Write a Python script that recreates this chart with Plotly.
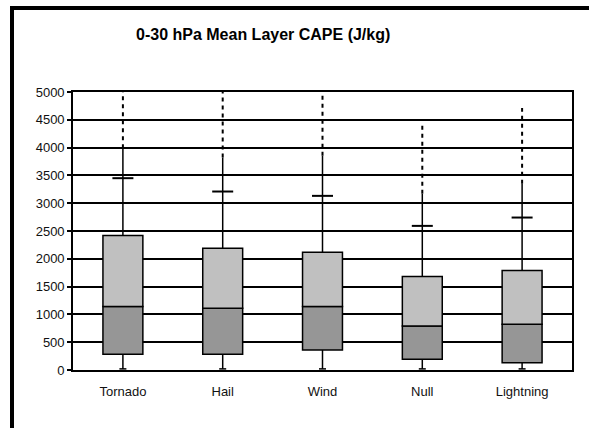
import plotly.graph_objects as go

categories = ["Tornado", "Hail", "Wind", "Null", "Lightning"]
q1 = [283, 283, 360, 192, 132]
median = [1140, 1110, 1140, 792, 822]
q3 = [2418, 2190, 2119, 1680, 1788]
tick_mark = [3450, 3210, 3132, 2592, 2742]
solid_top = [3990, 3822, 3852, 3168, 3348]
max_val = [5060, 5070, 5030, 4440, 4710]
min_val = [20, 20, 20, 20, 20]

fig = go.Figure()

# lower box (Q1 -> median)
fig.add_trace(go.Bar(
    x=categories, y=[m - a for m, a in zip(median, q1)], base=q1,
    width=0.4, marker=dict(color="#969696", line=dict(color="black", width=1.5)),
    showlegend=False, hoverinfo="skip"))
# upper box (median -> Q3)
fig.add_trace(go.Bar(
    x=categories, y=[b - m for b, m in zip(q3, median)], base=median,
    width=0.4, marker=dict(color="#c0c0c0", line=dict(color="black", width=1.5)),
    showlegend=False, hoverinfo="skip"))

for i, c in enumerate(categories):
    fig.add_trace(go.Scatter(x=[c, c], y=[min_val[i], q1[i]], mode="lines",
                             line=dict(color="black", width=1.5), showlegend=False, hoverinfo="skip"))
    fig.add_trace(go.Scatter(x=[c, c], y=[q3[i], solid_top[i]], mode="lines",
                             line=dict(color="black", width=1.5), showlegend=False, hoverinfo="skip"))
    fig.add_trace(go.Scatter(x=[c, c], y=[solid_top[i], max_val[i]], mode="lines",
                             line=dict(color="black", width=2, dash="4px,4px"),
                             showlegend=False, hoverinfo="skip"))

fig.add_trace(go.Scatter(x=categories, y=tick_mark, mode="markers",
                         marker=dict(symbol="line-ew", size=15, line=dict(color="black", width=2)),
                         showlegend=False, hoverinfo="skip", cliponaxis=False))
fig.add_trace(go.Scatter(x=categories, y=min_val, mode="markers",
                         marker=dict(symbol="line-ew", size=5, line=dict(color="black", width=1.5)),
                         showlegend=False, hoverinfo="skip", cliponaxis=False))

fig.update_layout(
    width=589, height=428,
    margin=dict(l=73, r=17, t=92, b=58),
    paper_bgcolor="white", plot_bgcolor="white",
    barmode="overlay",
    font=dict(family="Liberation Sans, Arial, sans-serif", size=13, color="black"),
    xaxis=dict(type="category", showgrid=False, showline=True, linecolor="black", linewidth=1.5,
               mirror=True, ticks="outside", ticklen=9, tickcolor="rgba(0,0,0,0)",
               tickfont=dict(size=13, color="#111111"), range=[-0.5, 4.5], fixedrange=True),
    yaxis=dict(range=[0, 5000], tickvals=list(range(0, 5001, 500)),
               showgrid=True, gridcolor="black", gridwidth=1.6,
               showline=True, linecolor="black", linewidth=1.6, mirror=True,
               ticks="outside", ticklen=4, tickcolor="black", tickwidth=1.5,
               tickfont=dict(size=13, color="#111111"), zeroline=False, fixedrange=True),
    annotations=[dict(text="<b>0-30 hPa Mean Layer CAPE (J/kg)</b>", xref="paper", yref="paper",
                      x=(263 - 73) / 499, y=(370 - 35) / 278, xanchor="center", yanchor="middle",
                      showarrow=False, font=dict(size=16, color="black"))],
    shapes=[
        dict(type="line", xref="paper", yref="paper",
             x0=(12 - 73) / 499, x1=(12 - 73) / 499, y0=(370 - 6) / 278, y1=(370 - 440) / 278,
             line=dict(color="black", width=4)),
        dict(type="line", xref="paper", yref="paper",
             x0=(10 - 73) / 499, x1=(600 - 73) / 499, y0=(370 - 8) / 278, y1=(370 - 8) / 278,
             line=dict(color="black", width=4)),
    ],
)

fig.write_html("out.html")
